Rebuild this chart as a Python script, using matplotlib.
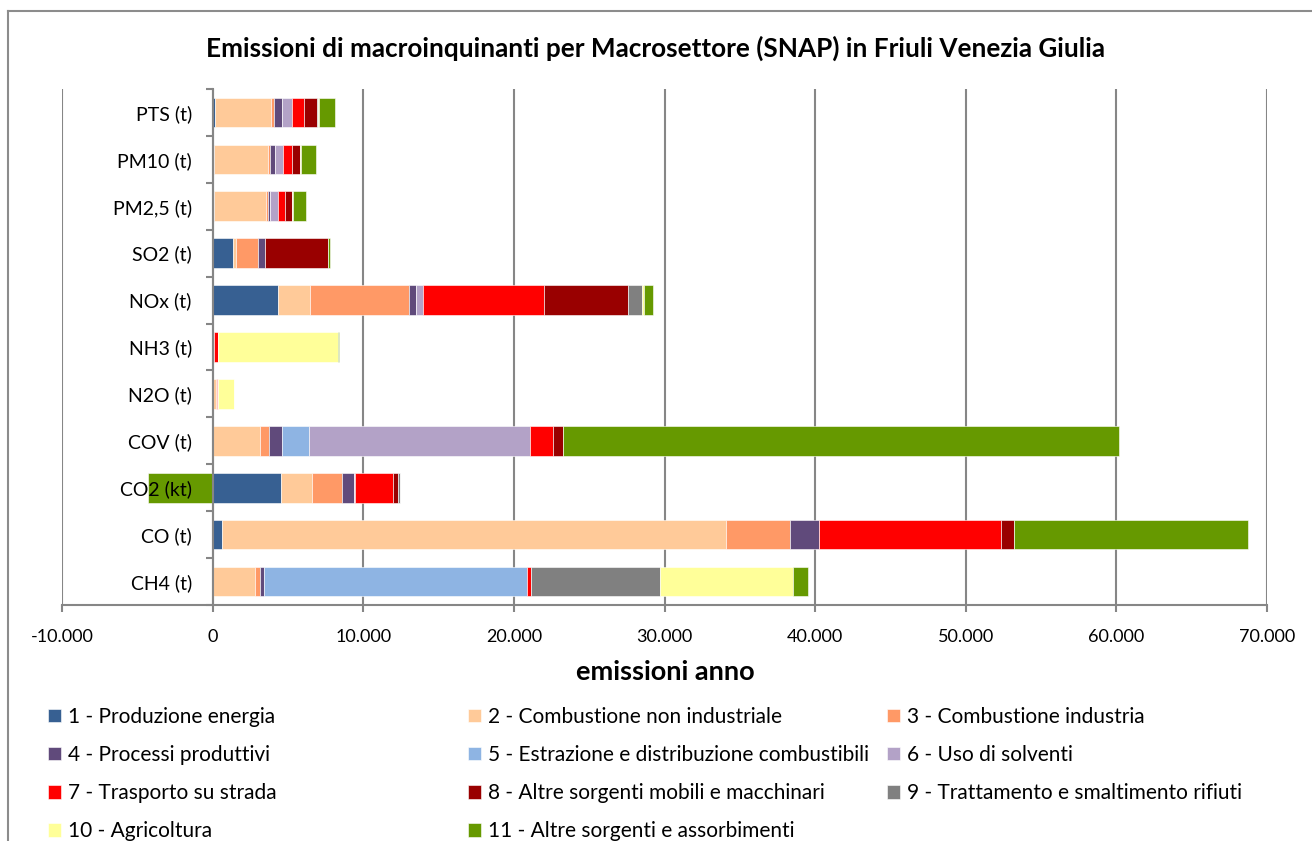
import matplotlib.pyplot as plt
import numpy as np
from matplotlib.ticker import FuncFormatter
from matplotlib.lines import Line2D

plt.rcParams['font.family'] = ['Lato', 'DejaVu Sans']

# Inquinanti (dall'alto verso il basso)
inquinanti = ['PTS (t)', 'PM10 (t)', 'PM2,5 (t)', 'SO2 (t)', 'NOx (t)', 'NH3 (t)',
              'N2O (t)', 'COV (t)', 'CO2 (kt)', 'CO (t)', 'CH4 (t)']

settori = ['1 - Produzione energia', '2 - Combustione non industriale', '3 - Combustione industria',
           '4 - Processi produttivi', '5 - Estrazione e distribuzione combustibili', '6 - Uso di solventi',
           '7 - Trasporto su strada', '8 - Altre sorgenti mobili e macchinari',
           '9 - Trattamento e smaltimento rifiuti', '10 - Agricoltura', '11 - Altre sorgenti e assorbimenti']

colori = ['#376092', '#FFCA99', '#FF9966', '#604A7B', '#8EB4E3', '#B3A2C7',
          '#FF0000', '#990000', '#808080', '#FFFF99', '#669900']

# valori per macrosettore, nello stesso ordine degli inquinanti
s1 = [150, 70, 60, 1330, 4350, 0, 10, 30, 4510, 600, 20]
s2 = [3700, 3580, 3500, 240, 2130, 80, 200, 3090, 2060, 33500, 2810]
s3 = [220, 130, 110, 1410, 6550, 20, 50, 600, 2010, 4230, 330]
s4 = [510, 330, 160, 510, 450, 20, 0, 860, 800, 1900, 220]
s5 = [0, 0, 0, 0, 0, 0, 0, 1830, 0, 0, 17520]
s6 = [710, 530, 500, 0, 460, 0, 0, 14690, 50, 0, 0]
s7 = [770, 650, 470, 20, 8070, 230, 80, 1500, 2530, 12110, 220]
s8 = [890, 500, 460, 4130, 5570, 0, 20, 640, 360, 880, 0]
s9 = [50, 30, 30, 0, 930, 0, 10, 50, 130, 0, 8580]
s10 = [30, 50, 30, 0, 150, 7960, 1040, 0, 0, 0, 8820]
s11 = [1100, 1000, 900, 130, 560, 90, 0, 36870, -4300, 15550, 1000]
valori = [s1, s2, s3, s4, s5, s6, s7, s8, s9, s10, s11]

W, H = 1312, 841
fig = plt.figure(figsize=(W / 100, H / 100), dpi=100)
ax = fig.add_axes([62 / W, 1 - 605 / H, (1267 - 62) / W, (605 - 89) / H])

y = np.arange(len(inquinanti))
pos = np.zeros(len(y))
neg = np.zeros(len(y))
barre = []
for nome, col, v in zip(settori, colori, valori):
    v = np.array(v, dtype=float)
    left = np.where(v >= 0, pos, neg)
    b = ax.barh(y, v, left=left, height=0.63, color=col, edgecolor='white', linewidth=0.4, label=nome)
    pos += np.where(v >= 0, v, 0)
    neg += np.where(v < 0, v, 0)
    barre.append(b)

ax.set_ylim(len(y) - 0.5, -0.5)
ax.set_xlim(-10000, 70000)
ax.set_xticks(range(-10000, 70001, 10000))
ax.xaxis.set_major_formatter(FuncFormatter(lambda v, p: f'{v:,.0f}'.replace(',', '.')))
ax.grid(axis='x', color='#868686', lw=1.5)
ax.set_axisbelow(True)
ax.yaxis.set_zorder(3)  # etichette sopra le barre (CO2)

for s in ['top', 'right']:
    ax.spines[s].set_visible(False)
ax.spines['left'].set_position(('data', 0))
for s in ['left', 'bottom']:
    ax.spines[s].set_color('#868686')
    ax.spines[s].set_linewidth(1.5)

ax.set_yticks(y)
ax.set_yticklabels(inquinanti)
ax.set_yticks(np.arange(-0.5, len(y)), minor=True)
ax.tick_params(axis='y', which='major', length=0, pad=15, labelsize=14)
ax.tick_params(axis='y', which='minor', length=5, width=1.5, color='#868686', direction='out')
ax.tick_params(axis='x', length=5, width=1.5, color='#868686', pad=12, labelsize=13)

fig.text(655 / W, 1 - 48 / H, 'Emissioni di macroinquinanti per Macrosettore (SNAP) in Friuli Venezia Giulia',
         ha='center', va='center', fontsize=18.8, fontweight='bold')
fig.text(665 / W, 1 - 672 / H, 'emissioni anno', ha='center', va='center', fontsize=19.5, fontweight='bold')

# legenda su tre colonne, riempita per righe
col_x = [48, 468, 887]
for k in range(3):
    idx = list(range(k, len(settori), 3))
    fig.legend([barre[i] for i in idx], [settori[i] for i in idx], loc='upper left',
               bbox_to_anchor=(col_x[k] / W, 1 - 707 / H), frameon=False, fontsize=15,
               borderpad=0, borderaxespad=0, handlelength=0.6, handleheight=0.6,
               handletextpad=0.35, labelspacing=0.87)

# cornice del grafico
fig.add_artist(Line2D([8 / W, 8 / W], [0, 1 - 11 / H], transform=fig.transFigure, color='#8c8c8c', lw=1.5))
fig.add_artist(Line2D([8 / W, 1], [1 - 11 / H, 1 - 11 / H], transform=fig.transFigure, color='#8c8c8c', lw=1.5))

fig.savefig('out.png', dpi=100)
